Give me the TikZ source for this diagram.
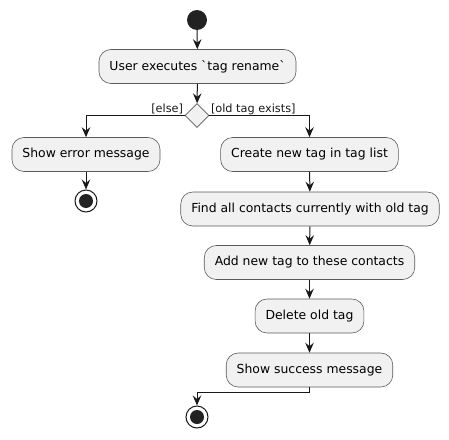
\documentclass[tikz,border=0pt]{standalone}
\usepackage{fontspec}
\setmainfont{DejaVu Sans}
\usetikzlibrary{arrows.meta,shapes.geometric}
\definecolor{boxfill}{HTML}{F1F1F1}
\definecolor{boxline}{HTML}{5A5A5A}
\definecolor{ink}{HTML}{181818}
\definecolor{dot}{HTML}{222222}
\tikzset{
  act/.style={draw=boxline, fill=boxfill, line width=0.6pt, rounded corners=12pt,
    minimum height=34pt, inner xsep=10.5pt, inner ysep=0pt,
    font=\fontsize{12.4}{14}\selectfont},
  flow/.style={draw=ink, line width=1pt, -{Stealth[length=10pt,width=8.5pt,inset=3.5pt]}},
  lbl/.style={font=\fontsize{11.3}{13}\selectfont, inner sep=0pt, text=ink},
  choice/.style={diamond, draw=boxline, fill=boxfill, line width=0.6pt,
    minimum width=24pt, minimum height=24pt, inner sep=0pt, aspect=1},
}
\begin{document}
\begin{tikzpicture}[x=1pt,y=-1pt]
\useasboundingbox (0,0) rectangle (449,439);
\node[circle, fill=dot, minimum size=20pt, inner sep=0pt] (start) at (197,20) {};
\node[act] (user) at (197.5,66.5) {User executes \textasciigrave tag rename\textasciigrave};
\node[choice] (dec) at (197,115.5) {};
\node[act] (err) at (86,154.5) {Show error message};
\node[circle, draw=ink, fill=white, line width=1pt, minimum size=22pt, inner sep=0pt] (endL) at (86,201) {};
\fill[dot] (endL.center) circle (7pt);
\node[act] (create) at (309.5,154.5) {Create new tag in tag list};
\node[act] (find) at (310,209) {Find all contacts currently with old tag};
\node[act] (add) at (309.5,262.5) {Add new tag to these contacts};
\node[act] (del) at (309.5,316) {Delete old tag};
\node[act] (succ) at (309.5,370) {Show success message};
\node[circle, draw=ink, fill=white, line width=1pt, minimum size=22pt, inner sep=0pt] (endR) at (197,417) {};
\fill[dot] (endR.center) circle (7pt);
\coordinate (merge) at (309.5,392);

\draw[flow] (start) -- (user);
\draw[flow] (user) -- (dec);
\draw[flow] (dec.west) -| (err.north);
\draw[flow] (dec.east) -| (create.north);
\node[lbl, anchor=base east] (else) at ([xshift=-1.5pt,yshift=3pt]dec.west) {[else]};
\node[lbl, anchor=base west] (yes) at ([xshift=1.5pt,yshift=3pt]dec.east) {[old tag exists]};
\draw[flow] (err) -- (endL);
\draw[flow] (create) -- (find);
\draw[flow] (find) -- (add);
\draw[flow] (add) -- (del);
\draw[flow] (del) -- (succ);
\draw[flow] (succ.south) -- (merge) -| (endR.north);
\end{tikzpicture}
\end{document}
